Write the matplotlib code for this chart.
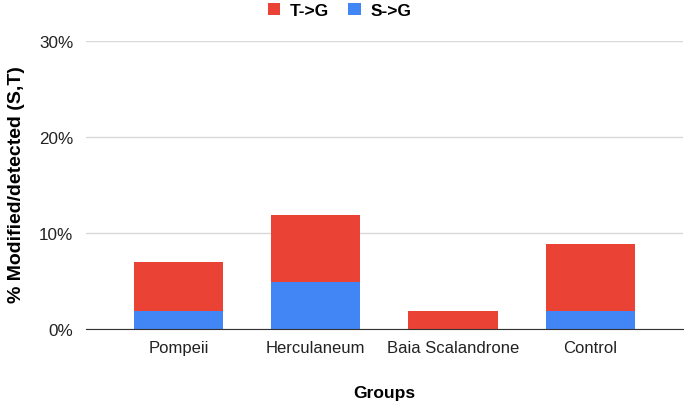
import matplotlib.pyplot as plt

plt.rcParams['font.family'] = ['Liberation Sans', 'DejaVu Sans']

groups = ["Pompeii", "Herculaneum", "Baia Scalandrone", "Control"]
s_to_g = [1.9, 4.9, 0.0, 1.9]
t_to_g = [5.1, 7.0, 1.9, 6.95]
yticks = [0, 10, 20, 30]

red = "#EA4335"
blue = "#4285F4"

fig = plt.figure(figsize=(6.85, 4.06), dpi=100)
ax = fig.add_axes([0.1255, 0.187, 0.8715, 0.7096])

x = range(len(groups))
ax.bar(x, s_to_g, width=0.65, color=blue, label="S->G", zorder=3)
ax.bar(x, t_to_g, width=0.65, bottom=s_to_g, color=red, label="T->G", zorder=3)

ax.set_xlim(-0.674, 3.674)
ax.set_ylim(0, 30)
ax.set_yticks(yticks)
ax.set_yticklabels([f"{v}%" for v in yticks], fontsize=12.3, color="#222222")
ax.set_xticks(list(x))
ax.set_xticklabels(groups, fontsize=12, color="#222222")
ax.tick_params(axis='y', length=0, pad=9)
ax.tick_params(axis='x', length=0, pad=8)

ax.grid(axis='y', color="#d9d9d9", linewidth=1, zorder=0)
for s in ["top", "right", "left"]:
    ax.spines[s].set_visible(False)
ax.spines["bottom"].set_color("#333333")
ax.spines["bottom"].set_zorder(4)

fig.text(0.5613, 0.032, "Groups", fontsize=12.5, fontweight='bold', ha='center', va='center')
fig.text(0.024, 0.545, "% Modified/detected (S,T)", fontsize=14, fontweight='bold',
         rotation=90, ha='center', va='center')

handles, labels = ax.get_legend_handles_labels()
fig.legend(handles[::-1], labels[::-1], loc='center', bbox_to_anchor=(0.496, 0.972),
           ncol=2, frameon=False, prop={'weight': 'bold', 'size': 12.5},
           handlelength=0.7, handleheight=0.75, handletextpad=0.6, columnspacing=1.1,
           borderaxespad=0, borderpad=0)

fig.savefig("out.png", dpi=100)
